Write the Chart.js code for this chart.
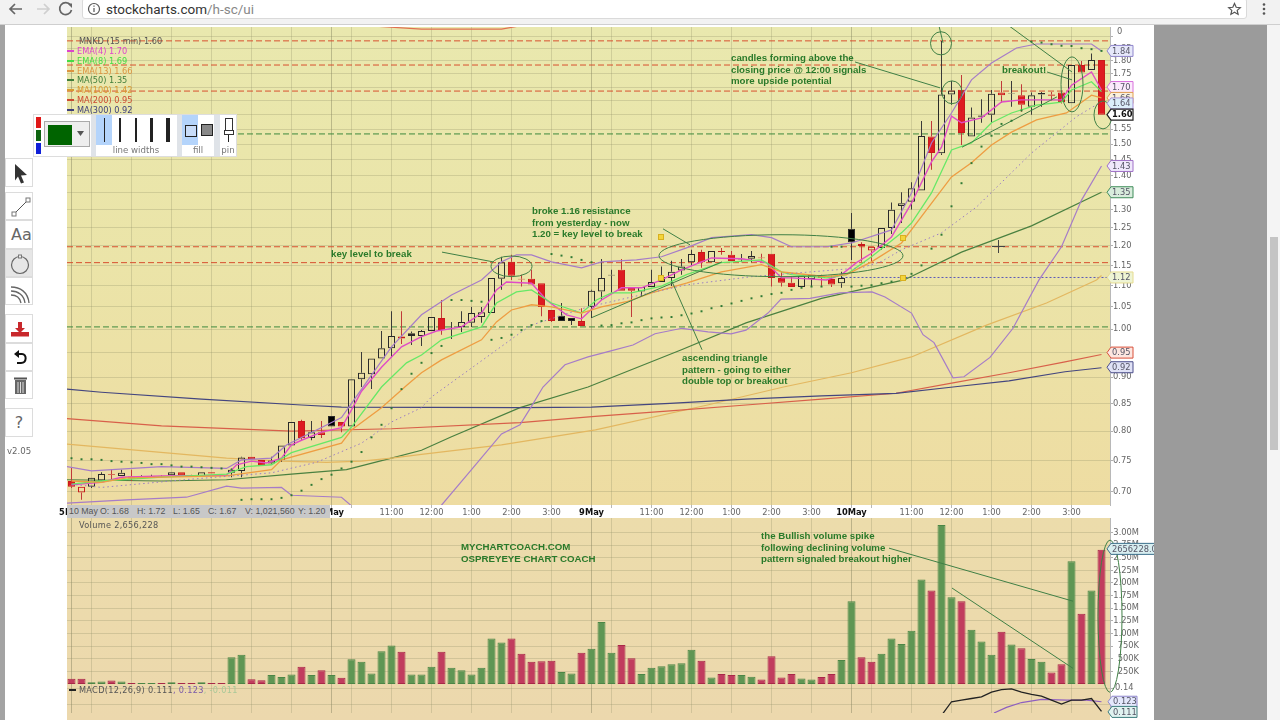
<!DOCTYPE html>
<html><head><meta charset="utf-8">
<script src="https://cdn.jsdelivr.net/npm/chart.js@4"></script>
<style>
html,body{margin:0;padding:0;width:1280px;height:720px;overflow:hidden;background:#fff;font-family:"Liberation Sans",Arial,sans-serif}
.abs,canvas{position:absolute}
canvas{left:0;top:0;pointer-events:none;filter:blur(.3px)}
.note{position:absolute;font:bold 9.7px/11.5px "Liberation Sans",Arial,sans-serif;color:#2a7a2a;white-space:pre;z-index:5}
.leg{position:absolute;left:78px;font:8.2px/10px "DejaVu Sans",sans-serif;white-space:pre;z-index:5}
.leg i{position:absolute;left:-10px;top:4px;width:7px;height:2px;background:currentColor}
.tip{position:absolute;top:0;font:8.8px/13px "Liberation Sans",Arial,sans-serif;color:#555;white-space:pre}
.btn{position:absolute;left:5px;width:28px;background:#fff;border:1px solid #dcdcdc;box-sizing:border-box;z-index:6}
.btn svg{position:absolute;left:0;top:0}
.w{position:absolute;background:#222;z-index:8}
.lab{position:absolute;font:8.6px/10px "DejaVu Sans",sans-serif;color:#777;z-index:8;text-align:center}
.ym{position:absolute;width:4px;height:4px;background:#f4d43a;border:1px solid #d8b020;z-index:5}
</style></head><body>
<!-- page backgrounds -->
<div class="abs" style="left:0;top:25px;width:5px;height:695px;background:#a3a3a3"></div>
<div class="abs" style="left:67px;top:27px;width:1043px;height:478px;background:linear-gradient(#e9e8ae,#ebe4a8 50%,#eedca2)"></div>
<div class="abs" style="left:67px;top:518px;width:1043px;height:202px;background:linear-gradient(#ecdcab,#ecd8ad)"></div>

<canvas id="priceCanvas" width="1280" height="720"></canvas>
<canvas id="volumeCanvas" width="1280" height="720"></canvas>
<canvas id="macdCanvas" width="1280" height="720"></canvas>

<!-- right gutter -->
<div class="abs" style="left:1154px;top:25px;width:113px;height:695px;background:#9b9b9b;z-index:4"></div>
<div class="abs" style="left:1267px;top:25px;width:13px;height:695px;background:#f4f4f4;z-index:4"></div>
<div class="abs" style="left:1270px;top:237px;width:8px;height:213px;background:#c4c4c4;z-index:4"></div>
<!-- browser bar -->
<div class="abs" style="left:0;top:0;width:1280px;height:25px;background:#f2f2f2;border-bottom:1px solid #cfcfcf;box-sizing:border-box;z-index:7"></div>
<div class="abs" style="left:82px;top:-2px;width:1165px;height:21px;background:#fff;border:1px solid #dadada;border-radius:3px;box-sizing:border-box;z-index:7"></div>
<svg class="abs" style="left:0;top:0;z-index:8" width="1280" height="25">
<path d="M22 9H11M15 4l-5 5 5 5" fill="none" stroke="#666" stroke-width="1.7"/>
<path d="M37 9h11M44 4l5 5-5 5" fill="none" stroke="#cfcfcf" stroke-width="1.7"/>
<path d="M70.500 5A6 6 0 1 0 71.500 10" fill="none" stroke="#666" stroke-width="1.7"/><path d="M67.500 3.500h4.500v4.500z" fill="#666"/>
<circle cx="94" cy="9" r="5.500" fill="none" stroke="#555" stroke-width="1.200"/><path d="M94 8v4M94 5.500v1.300" stroke="#555" stroke-width="1.200"/>
<path d="M1234.500 3.500l1.700 3.800 4.100.4-3.100 2.700.9 4-3.600-2.100-3.600 2.100.9-4-3.100-2.700 4.100-.4z" fill="none" stroke="#555" stroke-width="1.200"/>
<circle cx="1264" cy="4.500" r="1.300" fill="#555"/><circle cx="1264" cy="9" r="1.300" fill="#555"/><circle cx="1264" cy="13.500" r="1.300" fill="#555"/>
</svg>
<div class="abs" style="left:106px;top:1px;font:13.500px/16px Roboto,sans-serif;color:#333;z-index:8;white-space:pre">stockcharts.com<span style="color:#888">/h-sc/ui</span></div>

<!-- chart legend -->
<div class="leg" style="left:79px;top:36px;color:#555">MNKD (15 min) 1.60</div>
<div class="leg" style="left:77px;top:46px;color:#dd44cc"><i></i>EMA(4) 1.70</div>
<div class="leg" style="left:77px;top:56px;color:#44dd44"><i></i>EMA(8) 1.69</div>
<div class="leg" style="left:77px;top:66px;color:#dd9340"><i></i>EMA(13) 1.66</div>
<div class="leg" style="left:77px;top:75px;color:#3f7d3a"><i></i>MA(50) 1.35</div>
<div class="leg" style="left:77px;top:85px;color:#d89a30"><i></i>MA(100) 1.42</div>
<div class="leg" style="left:77px;top:95px;color:#cc4a30"><i></i>MA(200) 0.95</div>
<div class="leg" style="left:77px;top:105px;color:#3d3f7a"><i></i>MA(300) 0.92</div>
<div class="leg" style="left:79px;top:520px;color:#555;letter-spacing:.3px">Volume 2,656,228</div>
<div class="leg" style="left:79px;top:685px;color:#555;letter-spacing:.3px">MACD(12,26,9) 0.111<span style="color:#7a5aa8">, 0.123</span><span style="color:#a8c898">, -0.011</span></div>
<div class="abs" style="left:69px;top:689px;width:7px;height:2px;background:#222;z-index:5"></div>
<div class="abs" style="left:1117px;top:26px;font:8.3px/10px 'DejaVu Sans',sans-serif;color:#666;z-index:3">0</div>

<!-- annotation text -->
<div class="note" style="left:331px;top:248px">key level to break</div>
<div class="note" style="left:532px;top:205px">broke 1.16 resistance
from yesterday - now
1.20 = key level to break</div>
<div class="note" style="left:682px;top:352px">ascending triangle
pattern - going to either
double top or breakout</div>
<div class="note" style="left:731px;top:52px">candles forming above the
closing price @ 12:00 signals
more upside potential</div>
<div class="note" style="left:1002px;top:64px">breakout!</div>
<div class="note" style="left:461px;top:541px">MYCHARTCOACH.COM
OSPREYEYE CHART COACH</div>
<div class="note" style="left:761px;top:530px">the Bullish volume spike
following declining volume
pattern signaled breakout higher</div>

<div class="ym" style="left:658px;top:234px"></div><div class="ym" style="left:658px;top:275px"></div>
<div class="ym" style="left:900px;top:235px"></div><div class="ym" style="left:900px;top:275px"></div>
<div class="abs" style="left:992px;top:246px;width:13px;height:1px;background:#444;z-index:5"></div>
<div class="abs" style="left:998px;top:240px;width:1px;height:13px;background:#444;z-index:5"></div>

<!-- hover read-out strip -->
<div class="abs" style="left:67px;top:505px;width:263px;height:13px;background:#c8c8c8;z-index:5">
<span class="tip" style="left:2px">10 May</span><span class="tip" style="left:33px">O: 1.68</span><span class="tip" style="left:70px">H: 1.72</span><span class="tip" style="left:106px">L: 1.65</span><span class="tip" style="left:141px">C: 1.67</span><span class="tip" style="left:178px">V: 1,021,560</span><span class="tip" style="left:231px">Y: 1.20</span>
</div>

<!-- left tool palette -->
<div class="btn" style="top:158px;height:29px"><svg width="28" height="29"><path d="M9 5l12 11-6 .5 3 7-3 1-3-7-3 4z" fill="#333"/></svg></div>
<div class="btn" style="top:192px;height:28px"><svg width="28" height="28"><path d="M8 21L22 7" stroke="#555" fill="none"/><rect x="6" y="19" width="4" height="4" fill="#fff" stroke="#777"/><rect x="20" y="5" width="4" height="4" fill="#fff" stroke="#777"/></svg></div>
<div class="btn" style="top:220px;height:29px"><div class="abs" style="left:5px;top:5px;font:16px/18px 'DejaVu Sans',sans-serif;color:#666">Aa</div></div>
<div class="btn" style="top:249px;height:28px;background:#e6e6e6"><svg width="28" height="28"><circle cx="14" cy="15" r="8.500" fill="none" stroke="#666" stroke-width="1.200"/><rect x="12.500" y="5" width="3" height="3" fill="#eee" stroke="#777"/></svg></div>
<div class="btn" style="top:277px;height:28px"><svg width="28" height="28"><g fill="none" stroke="#666" stroke-width="1.300"><path d="M5 9c9 0 17 5 18 16"/><path d="M5 13c7 0 13 4 14 12"/><path d="M5 17c5 0 9 3 10 8"/></g></svg></div>
<div class="btn" style="top:314px;height:29px"><svg width="28" height="29"><path d="M12 7h4v6h3l-5 5-5-5h3z" fill="#c8282c"/><rect x="5" y="17" width="18" height="2" fill="#c8282c"/><rect x="5" y="19" width="18" height="2.500" fill="#c8282c"/></svg></div>
<div class="btn" style="top:343px;height:28px"><svg width="28" height="28"><path d="M10 10h6c5 0 5 9-1 9h-4" fill="none" stroke="#111" stroke-width="2"/><path d="M8 10l5-4v8z" fill="#111"/></svg></div>
<div class="btn" style="top:371px;height:28px"><svg width="28" height="28"><rect x="9" y="8" width="11" height="14" fill="#666"/><path d="M12 10v11M14.500 10v11M17 10v11" stroke="#ddd"/><rect x="8" y="5.500" width="13" height="2" fill="#555"/></svg></div>
<div class="btn" style="top:408px;height:29px"><div class="abs" style="left:0;width:26px;top:5px;text-align:center;font:16px/18px 'DejaVu Sans',sans-serif;color:#666">?</div></div>
<div class="abs" style="left:7px;top:446px;font:8.6px/10px 'DejaVu Sans',sans-serif;color:#666;z-index:6">v2.05</div>

<!-- drawing options popup -->
<div class="abs" style="left:33px;top:114px;width:204px;height:43px;background:#fff;border:1px solid #ddd;box-sizing:border-box;z-index:7"></div>
<div class="w" style="left:36px;top:117px;width:5px;height:11px;background:#e01818"></div>
<div class="w" style="left:36px;top:130px;width:5px;height:11px;background:#0e6410"></div>
<div class="w" style="left:36px;top:143px;width:5px;height:11px;background:#1020d8"></div>
<div class="w" style="left:44px;top:121px;width:46px;height:26px;background:#eee;border:1px solid #aaa;box-sizing:border-box"></div>
<div class="w" style="left:48px;top:125px;width:24px;height:20px;background:#006400"></div>
<svg class="abs" style="left:77px;top:131px;z-index:8" width="8" height="6"><path d="M0 0h7l-3.500 5z" fill="#555"/></svg>
<div class="w" style="left:91px;top:115px;width:5px;height:41px;background:#dfe3e8"></div>
<div class="w" style="left:96px;top:115px;width:16px;height:30px;background:#b4d4fb"></div>
<div class="w" style="left:104px;top:118px;width:1px;height:24px"></div>
<div class="w" style="left:119px;top:118px;width:2px;height:24px"></div>
<div class="w" style="left:135px;top:118px;width:2px;height:24px"></div>
<div class="w" style="left:150px;top:118px;width:3px;height:24px"></div>
<div class="w" style="left:166px;top:118px;width:4px;height:24px"></div>
<div class="lab" style="left:100px;top:145px;width:72px">line widths</div>
<div class="w" style="left:177px;top:115px;width:5px;height:41px;background:#dfe3e8"></div>
<div class="w" style="left:182px;top:115px;width:16px;height:30px;background:#b4d4fb"></div>
<div class="w" style="left:185px;top:125px;width:10px;height:10px;background:#c8dcf8;border:1px solid #222"></div>
<div class="w" style="left:201px;top:124px;width:10px;height:10px;background:#888;border:1px solid #222"></div>
<div class="lab" style="left:183px;top:145px;width:30px">fill</div>
<div class="w" style="left:214px;top:115px;width:6px;height:41px;background:#dfe3e8"></div>
<div class="w" style="left:225px;top:118px;width:6px;height:11px;background:#fff;border:1px solid #333"></div>
<div class="w" style="left:224px;top:130px;width:8px;height:3px;background:#fff;border:1px solid #333"></div>
<div class="w" style="left:228px;top:135px;width:1px;height:7px"></div>
<div class="lab" style="left:218px;top:145px;width:20px">pin</div>

<script>
// ---- values ----
// bar index 0 = first 15-minute bar of 5 May; index 103 = last bar of 10 May
const opens  = [.717,.699,.708,.718,.728,.725,.721,.725,.724,.725,.726,.731,.726,.724,.731,.727,.730,.733,.756,.751,.745,.751,.775,.818,.788,.798,.827,.816,.808,.896,.906,.938,.959,.984,.991,.985,.996,1.025,.999,1.005,1.014,1.027,1.036,1.117,1.159,1.117,1.117,1.106,1.043,1.03,1.025,1.018,1.05,1.086,1.127,1.139,1.097,1.086,1.097,1.109,1.119,1.137,1.158,1.184,1.158,1.187,1.177,1.167,1.167,1.168,1.18,1.119,1.107,1.097,1.116,1.124,1.116,1.106,1.246,1.205,1.188,1.195,1.248,1.31,1.322,1.355,1.525,1.47,1.672,1.69,1.525,1.597,1.6,1.68,1.676,1.67,1.628,1.672,1.672,1.68,1.641,1.784,1.765,1.804];
const highs  = [.739,.708,.722,.731,.736,.735,.735,.726,.727,.726,.731,.731,.727,.731,.731,.727,.737,.756,.756,.751,.756,.775,.816,.820,.818,.818,.827,.816,.896,.951,.938,.996,1.04,1.04,.995,.998,1.027,1.066,1.016,1.04,1.05,1.05,1.119,1.172,1.177,1.127,1.139,1.106,1.043,1.059,1.025,1.047,1.09,1.166,1.139,1.166,1.097,1.097,1.139,1.147,1.162,1.166,1.19,1.19,1.187,1.195,1.187,1.179,1.187,1.18,1.18,1.134,1.122,1.124,1.127,1.127,1.124,1.134,1.29,1.21,1.198,1.248,1.32,1.35,1.38,1.578,1.578,1.88,1.723,1.745,1.625,1.655,1.689,1.723,1.723,1.71,1.68,1.682,1.682,1.68,1.784,1.80,1.83,1.804];
const lows   = [.706,.688,.706,.717,.719,.725,.717,.723,.723,.723,.726,.726,.725,.724,.729,.726,.723,.723,.752,.741,.744,.748,.775,.784,.784,.788,.808,.798,.808,.881,.877,.938,.94,.968,.966,.964,.996,.988,.979,.994,1.005,1.014,1.036,1.09,1.114,1.098,1.103,1.029,1.016,1.018,1.009,1.007,1.025,1.066,1.083,1.088,1.027,1.073,1.097,1.109,1.099,1.127,1.15,1.144,1.158,1.177,1.161,1.158,1.158,1.16,1.098,1.098,1.097,1.097,1.097,1.097,1.097,1.095,1.164,1.159,1.159,1.19,1.232,1.262,1.30,1.355,1.418,1.465,1.635,1.497,1.525,1.572,1.572,1.642,1.628,1.61,1.60,1.628,1.65,1.64,1.641,1.755,1.765,1.60];
const closes = [.708,.708,.722,.728,.727,.730,.724,.724,.725,.724,.731,.726,.725,.731,.729,.726,.735,.755,.752,.741,.750,.775,.816,.788,.798,.793,.808,.808,.896,.909,.938,.959,.985,.980,.985,.996,1.027,.998,.998,1.016,1.036,1.038,1.119,1.158,1.124,1.115,1.103,1.05,1.018,1.018,1.018,1.007,1.088,1.119,1.125,1.088,1.088,1.097,1.109,1.121,1.134,1.147,1.179,1.158,1.187,1.184,1.161,1.165,1.174,1.17,1.119,1.107,1.097,1.124,1.127,1.119,1.103,1.119,1.21,1.2,1.198,1.248,1.299,1.318,1.362,1.527,1.471,1.672,1.687,1.537,1.59,1.593,1.675,1.67,1.674,1.635,1.67,1.678,1.668,1.645,1.784,1.755,1.804,1.60];
const barTones = ('rrggrgrggr'+'grrgrrggrr'+'gggrgrgrgg'+'gggrgggrgg'+'ggggrrrrrg'+'grgggrrggg'+'gggrgrrggr'+'rrrggrrggr'+'rgggggrggr'+'gggrgrggrr'+'grgr').split('');
const volumes = [.106,.106,.034,.048,.067,.048,.02,.02,.02,.02,.034,.02,.02,.034,.02,.02,.53,.58,.096,.072,.178,.14,.19,.34,.178,.27,.178,.125,.49,.44,.21,.65,.76,.64,.19,.19,.34,.64,.32,.27,.19,.32,.90,.82,.90,.60,.44,.45,.46,.24,.21,.62,.70,1.23,.62,.77,.51,.2,.32,.35,.39,.41,.68,.46,.13,.2,.18,.18,.145,.09,.55,.13,.2,.11,.09,.14,.2,.475,1.64,.53,.44,.6,.9,.79,1.055,2.07,1.85,3.15,1.72,1.64,1.075,.84,.58,1.035,.78,.71,.495,.44,.23,.39,2.43,1.39,1.85,2.656];
const sarDots = [.7537,.752,.752,.751,.749,.748,.747,.746,.744,.744,.742,.74,.74,.739,.738,.737,.735,.688,.689,.689,.689,.691,.695,.702,.711,.72,.727,.737,.748,.764,.789,.811,.841,.877,.907,.929,.949,.964,1.066,1.066,1.064,1.062,.977,.981,.988,.998,1.009,1.018,1.179,1.175,1.171,1.164,1.158,1.008,1.009,1.013,1.015,1.02,1.024,1.026,1.027,1.031,1.035,1.04,1.047,1.052,1.058,1.064,1.07,1.075,1.08,1.083,1.09,1.095,1.098,1.098,1.198,1.198,1.098,1.10,1.101,1.106,1.11,1.12,1.129,1.15,1.193,1.23,1.309,1.377,1.439,1.492,1.528,1.568,1.579,1.615,1.878,1.874,1.867,1.861,1.86,1.851,1.847,1.84];

const ema4X = [0,3,5,9,15.5,16.5,18,19.5,21,22,23,25,27,28,29,31,33,35,36.5,39,41,42.5,43.5,46,47.5,49.5,51,53,55,57,59,61,64,67,69.5,71,72,75.5,77,78.5,80,82,84,86,87,88,89,91,93,95,99,100,102,103];
const ema4Y = [.711,.715,.723,.725,.726,.743,.749,.746,.754,.776,.784,.798,.806,.838,.873,.92,.962,.984,.996,1.005,1.036,1.09,1.109,1.106,1.066,1.032,1.023,1.066,1.095,1.095,1.114,1.139,1.169,1.167,1.157,1.119,1.119,1.114,1.127,1.157,1.181,1.224,1.318,1.443,1.49,1.595,1.572,1.589,1.645,1.653,1.653,1.707,1.757,1.689];
const ema8X = [0,3,9,15.5,17.5,20,22,27,28,31,33.5,35,37,41,42.5,44.5,46,48,51,52.5,54,56,59,61.5,65,69,71,72,75.5,77.5,80,83,84,86,88,90,92,94,96.5,99,100,102,103];
const ema8Y = [.712,.717,.723,.728,.74,.743,.763,.789,.807,.881,.929,.945,.977,1.005,1.059,1.085,1.09,1.059,1.036,1.066,1.083,1.083,1.099,1.127,1.157,1.164,1.134,1.127,1.119,1.127,1.172,1.235,1.262,1.348,1.481,1.504,1.572,1.606,1.634,1.645,1.689,1.72,1.683];
const ema13X = [0,3,5.5,15.5,20,21,27,28,31,33.5,35,37,41,42.5,44,46,48,51,53,55.5,58,61.5,65,69,71,72,75.5,77.5,80,83,85.5,88,90,92,94,96.5,99.5,102,103];
const ema13Y = [.717,.715,.722,.725,.735,.751,.779,.802,.842,.884,.909,.935,.977,1.016,1.043,1.055,1.05,1.036,1.05,1.062,1.083,1.106,1.134,1.152,1.134,1.131,1.122,1.127,1.159,1.208,1.299,1.396,1.44,1.497,1.54,1.582,1.606,1.67,1.66];
const ma20X = [0,3,12,20,24.5,29,32,35,36,45,46,51.5,56,61.5,68,79,81,83,87,90.5,96,100.5,102,103];
const ma20Y = [.712,.707,.72,.73,.747,.779,.816,.842,.862,.994,1.009,1.049,1.073,1.102,1.122,1.144,1.16,1.19,1.235,1.307,1.471,1.593,1.625,1.645];
const ma50X = [-.45,9,15.5,22,27.5,32,35,38,44.85,51.65,61,67.45,75,83.25,89,96,103];
const ma50Y = [.719,.717,.719,.728,.735,.754,.767,.79,.842,.881,.956,1.014,1.07,1.114,1.184,1.254,1.35];
const ma100X = [-.45,15.5,21,25.5,29,32,35,43,52.4,63.6,71.2,78,84,91.5,97.5,102.5,103];
const ma100Y = [.7775,.754,.749,.747,.749,.754,.76,.776,.802,.847,.881,.909,.941,1.009,1.059,1.114,1.125];
const ma200X = [-.45,9,22,32,44.85,52.35,59.85,67.45,75,82.45,88.15,93.75,99.35,103];
const ma200Y = [.822,.809,.80,.804,.815,.826,.836,.847,.858,.869,.889,.909,.931,.946];
const ma300X = [-.45,3,13,23,27,44.85,52,59.85,67.45,75,82.45,88.15,93.75,99.35,103];
const ma300Y = [.877,.871,.858,.847,.843,.842,.843,.85,.858,.864,.869,.881,.893,.911,.919];
const upperX = [-.45,2,9,15.5,17,20,21.5,27,28,32,35,38,41,43,44.5,46,48,51,53,56.5,59,61.5,64,68,70,72,75.5,78,82,84,86,88,90,92,94.5,96.5,102,103];
const upperY = [.74,.733,.74,.737,.751,.754,.776,.824,.85,.962,1.032,1.078,1.114,1.159,1.177,1.177,1.159,1.144,1.159,1.164,1.172,1.195,1.222,1.23,1.222,1.198,1.198,1.208,1.243,1.348,1.504,1.606,1.727,1.792,1.852,1.868,1.868,1.84];
const lowerX = [-.45,5.5,11.5,15.5,17,21,22,27,28,31,35,37,40,43,44.85,45.95,47.15,49.35,51.65,53.85,56.15,58.35,61.05,63.65,65.95,67.45,69.65,70.95,73.85,76.85,80.05,81.35,84,85.15,86.25,88.15,89.25,91.85,94.15,96.75,99,101,103];
const lowerY = [.683,.688,.692,.709,.706,.707,.695,.692,.679,.63,.63,.68,.735,.795,.811,.843,.881,.925,.941,.953,.966,.99,1.002,.994,.99,.998,1.036,1.068,1.07,1.083,1.085,1.073,1.036,.988,.971,.899,.901,.94,1.002,1.114,1.198,1.327,1.43];
const topEdgeX = [29.5,35,43,45];
const topEdgeY = [1.945,1.93,1.93,1.945];

const redLevels = [1.881,1.784,1.685,1.198,1.157];
const greenLevels = [1.534,1.005];
const blueLevel = 1.12;
const blueLevelFrom = 77;

// drawn trend lines [fromIndex, fromPrice, toIndex, toPrice]
const trendLines = [[37.05,1.184,42.15,1.159],[59.15,1.246,61.85,1.203],[52.05,1.026,65.05,1.159],[60.05,1.11,63.05,.956],[78.35,1.796,86.85,1.697],[86.75,1.944,87.15,1.873],[93.75,1.944,100.05,1.757],[97.55,1.757,100.05,1.727],[89.05,1.49,98.55,1.664]];
// drawn ellipses [centreIndex, halfWidthInBars, topPrice, bottomPrice]
const priceEllipses = [[86.95,1.05,1.919,1.824],[88.05,1,1.723,1.639],[100.05,1.1,1.816,1.61],[103.15,.9,1.649,1.551],[44,2.05,1.174,1.122],[70.95,12.2,1.23,1.122]];
const volumeTrendLines = [[81.75,2.69,100.15,1.64],[88.05,1.90,100.15,.31]];
const volumeEllipses = [[103.85,1.2,2.85,-.165]];

const macdX = [87,88,89,90,91,92,93,94,95,96,97,98,99,100,101,102,103];
const macdY = [.106,.123,.125,.127,.129,.135,.138,.139,.135,.132,.13,.125,.12,.125,.125,.127,.111];
const signalX = [92.25,93.5,95,97,99.5,101.5,103];
const signalY = [.109,.116,.122,.126,.125,.125,.123];

const xTickIdx  = [0,2,6,10,14,18,22,26,28,32,36,40,44,48,52,54,58,62,66,70,74,78,80,84,88,92,96,100];
const xTickText = ['5May','','11:00','12:00','1:00','2:00','3:00','6May','','11:00','12:00','1:00','2:00','3:00','9May','','11:00','12:00','1:00','2:00','3:00','10May','','11:00','12:00','1:00','2:00','3:00'];
const priceTicks = [.70,.75,.80,.85,.90,.95,1.00,1.05,1.10,1.15,1.20,1.25,1.30,1.35,1.40,1.45,1.50,1.55,1.60,1.65,1.70,1.75,1.80,1.85,1.90];
const volumeTicks = [.25,.5,.75,1,1.25,1.5,1.75,2,2.25,2.5,2.75,3];
const macdTicks = [.14,.12];

const priceTagValues = [1.84,1.70,1.66,1.64,1.60,1.43,1.35,1.12,.95,.92];
const priceTagEdges  = ['#8f86cc','#d870dc','#e0a050','#a890d8','#222222','#a070c8','#3f8d5a','#e6dc90','#d9503a','#4a4c8a'];
const priceTagFills  = ['#e6e8fa','#fbeafc','#fbf0dc','#dceefa','#ffffff','#efe8fb','#d8ecdc','#eef4d4','#fce6e0','#e0e2f6'];

// ---- helpers ----
const INK = {r:'#c81a1a', g:'#2a2a2a'};
const lineSet = (xs, ys, color, width, extra) => Object.assign({
  type:'line', data: xs.map((x,k)=>({x, y:ys[k]})), borderColor:color, borderWidth:width,
  pointRadius:0, tension:0, fill:false, order:2
}, extra||{});
const segSet = (seg, color, width, dash) => ({
  type:'line', data:[{x:seg[0],y:seg[1]},{x:seg[2],y:seg[3]}], borderColor:color, borderWidth:width,
  borderDash:dash||[], pointRadius:0, tension:0, fill:false, order:1
});
const levelSet = (v, color, from) => ({
  type:'line', data:[{x:from==null?-.45:from,y:v},{x:103.85,y:v}], borderColor:color, borderWidth:1,
  borderDash:[6,3], pointRadius:0, tension:0, fill:false, order:6
});
function tag(ctx, x, y, w, text, edge, fill, bold){
  const h=5.5;
  ctx.save();
  ctx.beginPath();
  ctx.moveTo(x,y); ctx.lineTo(x+4,y-h); ctx.lineTo(x+w,y-h); ctx.lineTo(x+w,y+h); ctx.lineTo(x+4,y+h); ctx.closePath();
  ctx.fillStyle=fill; ctx.fill(); ctx.strokeStyle=edge; ctx.lineWidth=bold?1.2:1; ctx.stroke();
  ctx.fillStyle=bold?'#111':'#556';
  ctx.font=(bold?'bold ':'')+'8.3px "DejaVu Sans"';
  ctx.textAlign='left'; ctx.textBaseline='middle';
  ctx.fillText(text,x+5,y+.5);
  ctx.restore();
}
const ellipsePlugin = list => ({
  id:'ellipses',
  afterDatasetsDraw(chart){
    const {ctx, scales:{x,y}} = chart;
    ctx.save();
    ctx.strokeStyle='#3f7f45'; ctx.lineWidth=1;
    list.forEach(e=>{
      const cx=x.getPixelForValue(e[0]);
      const rx=Math.abs(x.getPixelForValue(e[0]+e[1])-cx);
      const t=y.getPixelForValue(e[2]), b=y.getPixelForValue(e[3]);
      ctx.beginPath(); ctx.ellipse(cx,(t+b)/2,rx,Math.abs(b-t)/2,0,0,Math.PI*2); ctx.stroke();
    });
    ctx.restore();
  }
});
const xAxis = (labels) => ({
  type:'linear', min:-.45, max:103.85, offset:false,
  afterBuildTicks:s=>{s.ticks=xTickIdx.map(v=>({value:v}));},
  afterFit:s=>{s.height=labels?13:0;},
  grid:{offset:false, drawTicks:labels, tickLength:3, tickColor:'#b8b8b8',
    color:c=>{const t=xTickText[c.index]||''; return t.includes('May')?'rgba(110,110,80,.38)':'rgba(140,140,100,.28)';}},
  border:{display:false},
  ticks:{display:labels, autoSkip:false, maxRotation:0, padding:0, includeBounds:false,
    callback:(v,i)=>xTickText[i],
    color:c=>(xTickText[c.index]||'').includes('May')?'#111':'#666',
    font:c=>({family:'"DejaVu Sans"', size:8.3, weight:(xTickText[c.index]||'').includes('May')?'bold':'normal'})}
});
const yGrid = {color:'rgba(140,140,100,.28)', tickColor:'#b0b0b0', tickLength:3, drawTicks:true};
const base = {
  responsive:false, animation:false, events:[],
  plugins:{legend:{display:false}, tooltip:{enabled:false}}
};

// ---- price panel ----
const wickUp = opens.map((o,i)=>({x:i, y:[Math.max(o,closes[i]), highs[i]]}));
const wickDn = opens.map((o,i)=>({x:i, y:[lows[i], Math.min(o,closes[i])]}));
const bodies = opens.map((o,i)=>({x:i, y:[Math.min(o,closes[i]), Math.max(o,closes[i])]}));
const inkFor = barTones.map(t=>INK[t]);
const wickColor = barTones.map(t=>t==='r'?'#c03a3a':'#3a3a3a');
const bodyFill = opens.map((o,i)=> o>closes[i] ? (barTones[i]==='r'?'#de1a22':'#000') : 'rgba(0,0,0,0)');
const barCommon = {type:'bar', grouped:false, borderSkipped:false, inflateAmount:0};

new Chart(document.getElementById('priceCanvas'),{
  type:'bar',
  data:{datasets:[
    ...redLevels.map(v=>levelSet(v,'#d8502f')),
    ...greenLevels.map(v=>levelSet(v,'#3d8a3d')),
    Object.assign(levelSet(blueLevel,'#5a58b8',blueLevelFrom),{borderDash:[2,2]}),
    lineSet(topEdgeX,topEdgeY,'#e07050',1.2),
    lineSet(ma300X,ma300Y,'#44467f',1.2,{order:5}),
    lineSet(ma200X,ma200Y,'#d8604a',1.2,{order:5}),
    lineSet(ma100X,ma100Y,'#e3b760',1.2,{order:5}),
    lineSet(ma50X,ma50Y,'#4a8040',1.2,{order:5}),
    Object.assign({},barCommon,{data:wickUp,backgroundColor:wickColor,barThickness:1,borderWidth:0,order:4}),
    Object.assign({},barCommon,{data:wickDn,backgroundColor:wickColor,barThickness:1,borderWidth:0,order:4}),
    Object.assign({},barCommon,{data:bodies,backgroundColor:bodyFill,borderColor:inkFor,borderWidth:1,barThickness:7,order:3}),
    lineSet(upperX,upperY,'#a67cc8',1.2),
    lineSet(lowerX,lowerY,'#a67cc8',1.2),
    lineSet(ma20X,ma20Y,'#9a7cc4',1,{borderDash:[1.5,3]}),
    lineSet(ema13X,ema13Y,'#ee9d42',1.3),
    lineSet(ema8X,ema8Y,'#66e866',1.3),
    lineSet(ema4X,ema4Y,'#e04cc6',1.4),
    {type:'scatter',data:sarDots.map((v,i)=>({x:i,y:v})),showLine:false,pointStyle:'rect',pointRadius:1.4,
      backgroundColor:'#2f7a35',borderWidth:0,order:1},
    ...trendLines.map(s=>segSet(s,'#3f7f45',1))
  ]},
  options:Object.assign({},base,{
    layout:{padding:{left:67,right:120,top:27,bottom:202}},
    scales:{
      x:xAxis(true),
      y:{type:'logarithmic',position:'right',min:.6803,max:1.939,
        afterBuildTicks:s=>{s.ticks=priceTicks.map(v=>({value:v}));},
        afterFit:s=>{s.width=50;},
        grid:yGrid,
        border:{color:'#b8b8b8'},
        ticks:{autoSkip:false,padding:0,color:'#666',font:{family:'"DejaVu Sans"',size:8.3},
          callback:v=>v===1.9?'':Number(v).toFixed(2)}}
    }
  }),
  plugins:[ellipsePlugin(priceEllipses),{
    id:'priceTags',
    afterDraw(chart){
      const y=chart.scales.y;
      priceTagValues.forEach((v,i)=>tag(chart.ctx,1107,y.getPixelForValue(v),26,v.toFixed(2),priceTagEdges[i],priceTagFills[i],v===1.60));
    }
  }]
});

// ---- volume panel ----
new Chart(document.getElementById('volumeCanvas'),{
  type:'bar',
  data:{datasets:[
    Object.assign({},barCommon,{
      data:volumes.map((v,i)=>({x:i,y:v})),
      backgroundColor:barTones.map(t=>t==='r'?'#c13c5e':'#5f9654'),
      borderColor:barTones.map(t=>t==='r'?'#a82848':'#4c8646'),
      borderWidth:1,barThickness:8,order:3}),
    ...volumeTrendLines.map(s=>segSet(s,'#3f7f45',1))
  ]},
  options:Object.assign({},base,{
    layout:{padding:{left:67,right:141,top:518,bottom:36}},
    scales:{
      x:xAxis(false),
      y:{type:'linear',position:'right',min:0,max:3.287,
        afterBuildTicks:s=>{s.ticks=volumeTicks.map(v=>({value:v}));},
        afterFit:s=>{s.width=29;},
        grid:yGrid,
        border:{color:'#b8b8b8'},
        ticks:{autoSkip:false,crossAlign:'far',padding:0,color:'#666',font:{family:'"DejaVu Sans"',size:8.3},
          callback:v=>v<1?Math.round(v*1000)+'K':Number(v).toFixed(2)+'M'}}
    }
  }),
  plugins:[ellipsePlugin(volumeEllipses),{
    id:'volumeTag',
    afterDraw(chart){
      tag(chart.ctx,1107,chart.scales.y.getPixelForValue(volumes[103])-1,50,'2656228.0','#3a6f8a','#d8eef0',false);
    }
  }]
});

// ---- MACD panel ----
new Chart(document.getElementById('macdCanvas'),{
  type:'line',
  data:{datasets:[
    lineSet(signalX,signalY,'#8e5fc0',1.2),
    lineSet(macdX,macdY,'#222',1.3,{order:1})
  ]},
  options:Object.assign({},base,{
    layout:{padding:{left:67,right:120,top:684,bottom:0}},
    scales:{
      x:xAxis(false),
      y:{type:'linear',position:'right',min:.109,max:.145,
        afterBuildTicks:s=>{s.ticks=macdTicks.map(v=>({value:v}));},
        afterFit:s=>{s.width=50;},
        grid:yGrid,
        border:{color:'#b8b8b8'},
        ticks:{autoSkip:false,padding:2,color:'#666',font:{family:'"DejaVu Sans"',size:8.3},
          callback:v=>Number(v).toFixed(2)}}
    }
  }),
  plugins:[{
    id:'macdTags',
    afterDraw(chart){
      const y=chart.scales.y;
      tag(chart.ctx,1108,y.getPixelForValue(.123),29,'0.123','#8f86cc','#e4e8fc',false);
      tag(chart.ctx,1108,y.getPixelForValue(.111)+.5,29,'0.111','#3f7f7f','#e0f2f0',false);
    }
  }]
});
</script>
</body></html>
